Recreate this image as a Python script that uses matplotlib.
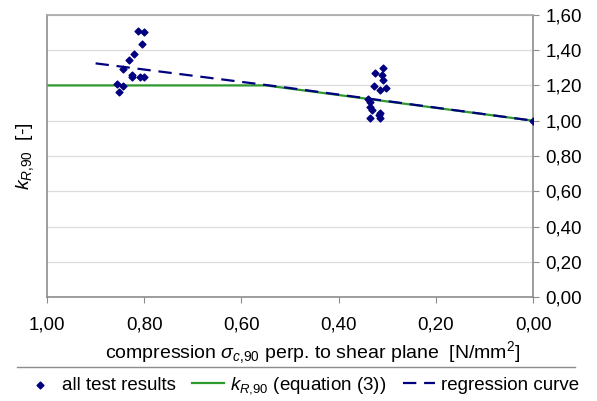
import matplotlib
matplotlib.use("Agg")
import matplotlib.pyplot as plt
from matplotlib.lines import Line2D

plt.rcParams['font.family'] = ['Liberation Sans', 'DejaVu Sans']
plt.rcParams['mathtext.fontset'] = 'custom'
plt.rcParams['mathtext.rm'] = 'Liberation Sans'
plt.rcParams['mathtext.it'] = 'Liberation Sans:italic'

# test results (sigma_c90 [N/mm2], k_R90)
test_x = [0.812, 0.800, 0.805, 0.820, 0.831, 0.844, 0.826, 0.826, 0.809, 0.800,
          0.855, 0.843, 0.852,
          0.308, 0.325, 0.311, 0.309, 0.327, 0.315, 0.302, 0.339, 0.335, 0.336,
          0.332, 0.335, 0.318, 0.315, 0.316, 0.000]
test_y = [1.509, 1.502, 1.434, 1.379, 1.345, 1.295, 1.260, 1.247, 1.247, 1.247,
          1.209, 1.199, 1.165,
          1.297, 1.273, 1.260, 1.231, 1.197, 1.174, 1.184, 1.122, 1.108, 1.080,
          1.061, 1.014, 1.033, 1.014, 1.042, 1.000]

# k_R90 according to equation (3)
eq_x = [1.00, 0.55, 0.00]
eq_y = [1.20, 1.20, 1.00]

# regression curve
reg_x = [0.90, 0.80, 0.70, 0.60, 0.50, 0.40, 0.30, 0.20, 0.10, 0.00]
reg_y = [1.325, 1.290, 1.255, 1.220, 1.185, 1.148, 1.111, 1.074, 1.037, 1.000]

yticks = [0.0, 0.2, 0.4, 0.6, 0.8, 1.0, 1.2, 1.4, 1.6]
xticks = [1.0, 0.8, 0.6, 0.4, 0.2, 0.0]

navy = '#000080'
green = '#2e9a2e'
spine_col = '#8c8c8c'

comma = plt.FuncFormatter(lambda v, p: ('%.2f' % v).replace('.', ','))

fig = plt.figure(figsize=(5.97, 4.01), dpi=100)
ax = fig.add_axes([0.0787, 0.259, 0.8143, 0.704])

ax.plot(eq_x, eq_y, color=green, lw=1.6, zorder=2, label='$k_{R{,}90}$ (equation (3))')
ax.plot(reg_x, reg_y, color=navy, lw=1.6, ls=(0, (6, 3.5)), zorder=3, label='regression curve')
ax.scatter(test_x, test_y, marker='D', s=12, color=navy, zorder=4, label='all test results')

ax.set_xlim(1.0, 0.0)
ax.set_ylim(0.0, 1.6)
ax.set_xticks(xticks)
ax.xaxis.set_major_formatter(comma)
ax.set_yticks(yticks)
ax.yaxis.set_major_formatter(comma)
ax.yaxis.tick_right()
ax.grid(axis='y', color='#dcdcdc', lw=0.9)
ax.set_axisbelow(True)
for s in ax.spines.values():
    s.set_color(spine_col)
    s.set_linewidth(1.2)
ax.spines['top'].set_color('#a8a8a8')
ax.tick_params(axis='both', colors=spine_col, labelcolor='black', labelsize=13.5, length=4)
ax.tick_params(axis='x', pad=10)
ax.tick_params(axis='y', pad=5)

fig.text(0.042, 0.61, '$k_{R{,}90}$  [-]', rotation=90, fontsize=14, ha='center', va='center')
ax.set_xlabel('compression $\\sigma_{c{,}90}$ perp. to shear plane  [N/mm$^2$]', fontsize=14)
ax.xaxis.set_label_coords(0.547, -0.15)

fig.add_artist(Line2D([0.028, 0.963], [0.085, 0.085], color='#8c8c8c', lw=1.0))

handles, labels = ax.get_legend_handles_labels()
order = [2, 0, 1]
fig.legend([handles[i] for i in order], [labels[i] for i in order], loc='center',
           bbox_to_anchor=(0.505, 0.038), ncol=3, frameon=False, fontsize=13.5,
           handlelength=1.7, handletextpad=0.3, columnspacing=0.9, borderpad=0)

fig.savefig('out.png', dpi=100)
